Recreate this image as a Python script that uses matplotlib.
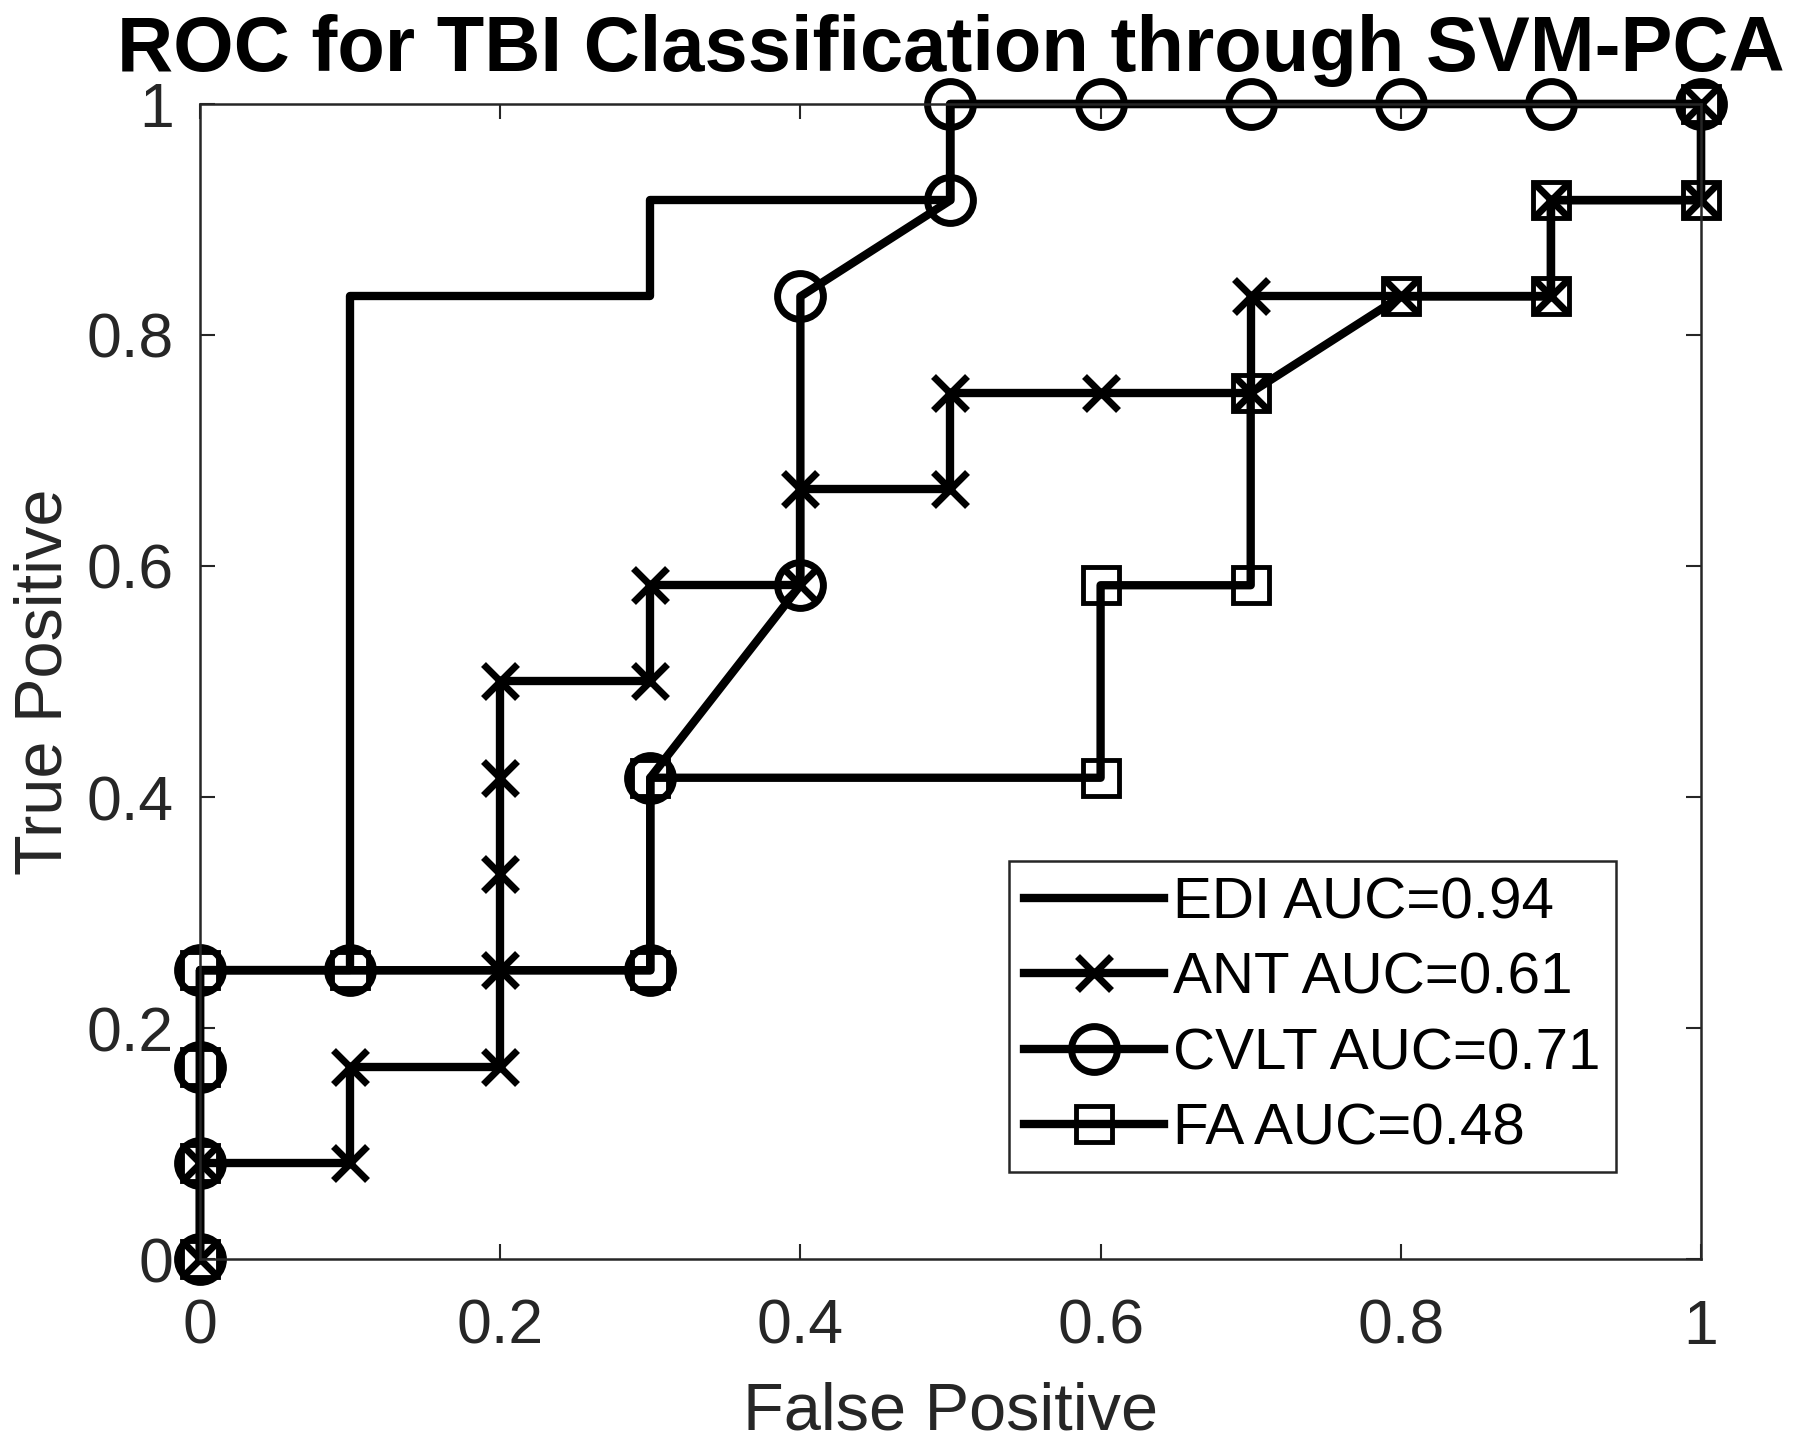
import numpy as np
import matplotlib.pyplot as plt

plt.rcParams['font.family'] = ['Liberation Sans', 'DejaVu Sans']

# ROC points (false positive rate, true positive rate)
edi_fp = [0, 0, 0.1, 0.1, 0.3, 0.3, 0.5, 0.5, 1]
edi_tp = [0, 3/12, 3/12, 10/12, 10/12, 11/12, 11/12, 1, 1]

ant_fp = [0, 0, 0.1, 0.1, 0.2, 0.2, 0.2, 0.2, 0.2, 0.3, 0.3, 0.4, 0.4, 0.5, 0.5,
          0.6, 0.7, 0.7, 0.8, 0.9, 0.9, 1, 1]
ant_tp = [0, 1/12, 1/12, 2/12, 2/12, 3/12, 4/12, 5/12, 6/12, 6/12, 7/12, 7/12, 8/12,
          8/12, 9/12, 9/12, 9/12, 10/12, 10/12, 10/12, 11/12, 11/12, 1]

cvlt_fp = [0, 0, 0, 0, 0.1, 0.3, 0.3, 0.4, 0.4, 0.5, 0.5, 0.6, 0.7, 0.8, 0.9, 1]
cvlt_tp = [0, 1/12, 2/12, 3/12, 3/12, 3/12, 5/12, 7/12, 10/12, 11/12, 1, 1, 1, 1, 1, 1]

fa_fp = [0, 0, 0, 0, 0.1, 0.3, 0.3, 0.6, 0.6, 0.7, 0.7, 0.8, 0.9, 0.9, 1, 1]
fa_tp = [0, 1/12, 2/12, 3/12, 3/12, 3/12, 5/12, 5/12, 7/12, 7/12, 9/12, 10/12, 10/12,
         11/12, 11/12, 1]

labels = ['EDI AUC=0.94', 'ANT AUC=0.61', 'CVLT AUC=0.71', 'FA AUC=0.48']
ticks = [0, 0.2, 0.4, 0.6, 0.8, 1]
tick_labels = ['0', '0.2', '0.4', '0.6', '0.8', '1']

dark = '#262626'
lw = 6

fig = plt.figure(figsize=(18, 14.44), dpi=100)
ax = fig.add_axes([0.1111, 0.1281, 0.8339, 0.7999])

ax.plot(edi_fp, edi_tp, '-', color='k', lw=lw, label=labels[0], clip_on=False)
ax.plot(ant_fp, ant_tp, '-x', color='k', lw=lw, ms=25, mew=5, label=labels[1],
        clip_on=False)
ax.plot(cvlt_fp, cvlt_tp, '-o', color='k', lw=lw, ms=33, mew=5, mfc='none',
        label=labels[2], clip_on=False)
ax.plot(fa_fp, fa_tp, '-s', color='k', lw=lw, ms=26, mew=3.5, mfc='none',
        label=labels[3], clip_on=False)

ax.set_xlim(0, 1)
ax.set_ylim(0, 1)
ax.set_xticks(ticks)
ax.set_xticklabels(tick_labels)
ax.set_yticks(ticks)
ax.set_yticklabels(tick_labels)
ax.tick_params(direction='in', length=11, width=1.5, colors=dark, labelsize=45,
               top=True, right=True)
ax.tick_params(axis='x', pad=28)
ax.tick_params(axis='y', pad=19)
for sp in ax.spines.values():
    sp.set_linewidth(1.8)
    sp.set_color(dark)

ax.set_xlabel('False Positive', fontsize=48, color=dark, labelpad=18)
ax.set_ylabel('True Positive', fontsize=48, color=dark, labelpad=8)
ax.set_title('ROC for TBI Classification through SVM-PCA', fontsize=56,
             fontweight='bold', pad=24)

leg = ax.legend(loc='upper left', bbox_to_anchor=(0.539, 0.3446), borderaxespad=0,
                fontsize=42, handlelength=2.4, handletextpad=0.15, labelspacing=0.37,
                borderpad=0.26, fancybox=False, framealpha=1)
leg.get_frame().set_edgecolor(dark)
leg.get_frame().set_linewidth(1.8)
for t in leg.get_texts():
    t.set_color('k')

plt.savefig('out.png', dpi=100)
